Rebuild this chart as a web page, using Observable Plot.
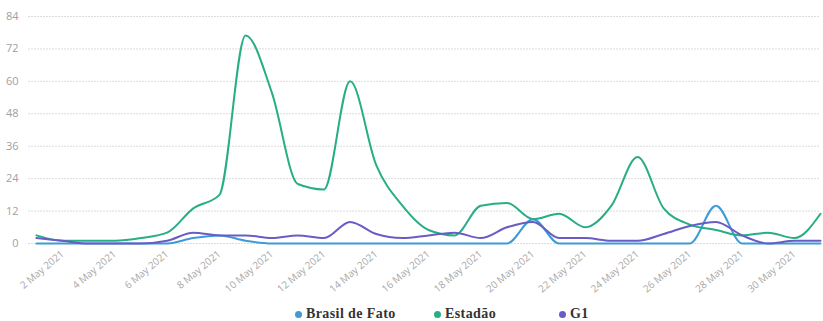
<!DOCTYPE html>
<html>
<head>
<meta charset="utf-8">
<script src="https://cdn.jsdelivr.net/npm/d3@7"></script>
<script src="https://cdn.jsdelivr.net/npm/@observablehq/plot@0.6"></script>
<style>
  html, body { margin: 0; padding: 0; background: #fff; }
  #chart { width: 823px; }
  .legend {
    position: relative; height: 23px; width: 823px;
    font-family: "Liberation Serif", "DejaVu Serif", serif; font-weight: bold;
    font-size: 14px; color: #333; letter-spacing: 0.4px;
  }
  .legend span { position: absolute; top: 8px; display: inline-flex; align-items: center; white-space: nowrap; }
  .legend i { display: inline-block; width: 7px; height: 7px; border-radius: 50%; margin-right: 4px; }
</style>
</head>
<body>
<div id="chart"></div>
<script>
// Daily article counts per outlet, May 2021
const days = d3.range(1, 32).map(d => new Date(2021, 4, d));
const seriesNames = ["Brasil de Fato", "Estadão", "G1"];
const colors = ["#3D9BD8", "#27AE86", "#6A5CC4"];

const brasilDeFato = [0,0,0,0,0,0,2,3,1,0,0,0,0,0,0,0,0,0,0,9,0,0,0,0,0,0,14,0,0,0,0];
const estadao =      [3,1,1,1,2,4,13,18,77,56,22,20,60,29,14,5,3,14,15,9,11,6,14,32,13,7,5,3,4,2,11];
const g1 =           [2,1,0,0,0,1,4,3,3,2,3,2,8,3.5,2,3,4,2,6,8,2,2,1,1,3.5,6.5,8,3,0,1,1];

const yTicks = [0, 12, 24, 36, 48, 60, 72, 84];
const xTicks = d3.range(2, 31, 2).map(d => new Date(2021, 4, d));

const values = [brasilDeFato, estadao, g1];
const rows = seriesNames.flatMap((name, i) =>
  days.map((date, j) => ({date, name, value: values[i][j]})));

const fmt = d3.timeFormat("%-d %B %Y");

const chart = Plot.plot({
  width: 823,
  height: 298,
  marginLeft: 36,
  marginRight: 3,
  marginTop: 16,
  marginBottom: 55,
  style: {fontFamily: "'Open Sans', sans-serif", background: "#fff"},
  x: {type: "time", domain: [days[0], days[30]]},
  y: {domain: [0, 84]},
  color: {domain: seriesNames, range: colors},
  marks: [
    Plot.ruleY(yTicks, {stroke: "#dcdcdc", strokeDasharray: "2,1", insetLeft: -8}),
    Plot.axisY({ticks: yTicks, tickSize: 0, tickPadding: 18, fontSize: 11, fill: "#a0a0a0", label: null}),
    Plot.axisX({ticks: xTicks, tickFormat: fmt, tickRotate: -40, tickSize: 0, tickPadding: 9, fontSize: 10, fill: "#a8a8a8", label: null}),
    Plot.line(rows, {x: "date", y: "value", z: "name", stroke: "name", strokeWidth: 2, curve: "monotone-x"})
  ]
});
document.getElementById("chart").appendChild(chart);

// Legend row below the plot
const legendLeft = [295, 434, 559];
const legend = document.createElement("div");
legend.className = "legend";
seriesNames.forEach((name, i) => {
  const s = document.createElement("span");
  s.style.left = legendLeft[i] + "px";
  s.innerHTML = `<i style="background:${colors[i]}"></i>${name}`;
  legend.appendChild(s);
});
document.body.appendChild(legend);
</script>
</body>
</html>
